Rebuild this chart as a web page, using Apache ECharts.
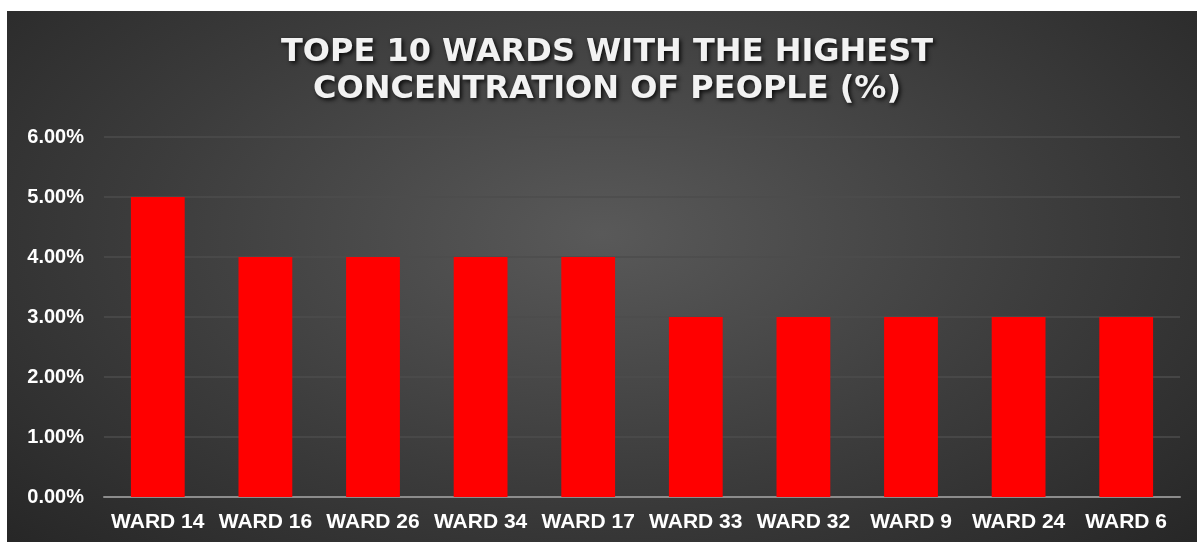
<!DOCTYPE html>
<html>
<head>
<meta charset="utf-8">
<script src="https://cdn.jsdelivr.net/npm/echarts@6/dist/echarts.min.js"></script>
<style>
  html, body { margin: 0; padding: 0; background: #ffffff; width: 1197px; height: 542px; overflow: hidden; }
  #bg { position: absolute; left: 7px; top: 11px; width: 1190px; height: 531px;
        background: radial-gradient(ellipse 70% 85% at 50% 42%, #595959 0%, #3c3c3c 55%, #262626 100%); }
  #chart { position: absolute; left: 0; top: 0; width: 1197px; height: 542px; }
</style>
</head>
<body>
<div id="bg"></div>
<div id="chart"></div>
<script>
const categories = ['WARD 14', 'WARD 16', 'WARD 26', 'WARD 34', 'WARD 17', 'WARD 33', 'WARD 32', 'WARD 9', 'WARD 24', 'WARD 6'];
const shares = [5, 4, 4, 4, 4, 3, 3, 3, 3, 3];
const titleText = 'TOPE 10 WARDS WITH THE HIGHEST\nCONCENTRATION OF PEOPLE (%)';

const chart = echarts.init(document.getElementById('chart'), null, { renderer: 'canvas' });
chart.setOption({
  backgroundColor: 'transparent',
  animation: false,
  title: {
    text: titleText,
    left: 602,
    top: 29,
    textAlign: 'center',
    textStyle: {
      color: '#f2f2f2',
      fontFamily: 'DejaVu Sans',
      fontWeight: 'bold',
      fontSize: 32,
      lineHeight: 37,
      align: 'center',
      textShadowColor: 'rgba(0,0,0,0.85)',
      textShadowBlur: 4,
      textShadowOffsetX: 2,
      textShadowOffsetY: 2
    }
  },
  grid: { left: 104, right: 17, top: 137, bottom: 45, containLabel: false },
  xAxis: {
    type: 'category',
    data: categories,
    axisTick: { show: false },
    axisLine: { lineStyle: { color: '#8c8c8c', width: 2 } },
    axisLabel: {
      color: '#ffffff',
      fontFamily: 'Liberation Sans',
      fontWeight: 'bold',
      fontSize: 21,
      margin: 15,
      interval: 0
    }
  },
  yAxis: {
    type: 'value',
    min: 0,
    max: 6,
    interval: 1,
    axisLine: { show: false },
    axisTick: { show: false },
    splitLine: { lineStyle: { color: '#4d4d4d', width: 1.5 } },
    axisLabel: {
      color: '#ffffff',
      fontFamily: 'Liberation Sans',
      fontWeight: 'bold',
      fontSize: 20,
      margin: 20,
      formatter: v => v.toFixed(2) + '%'
    }
  },
  series: [{
    type: 'bar',
    data: shares,
    barWidth: '50%',
    itemStyle: { color: '#ff0000' }
  }]
});
</script>
</body>
</html>
